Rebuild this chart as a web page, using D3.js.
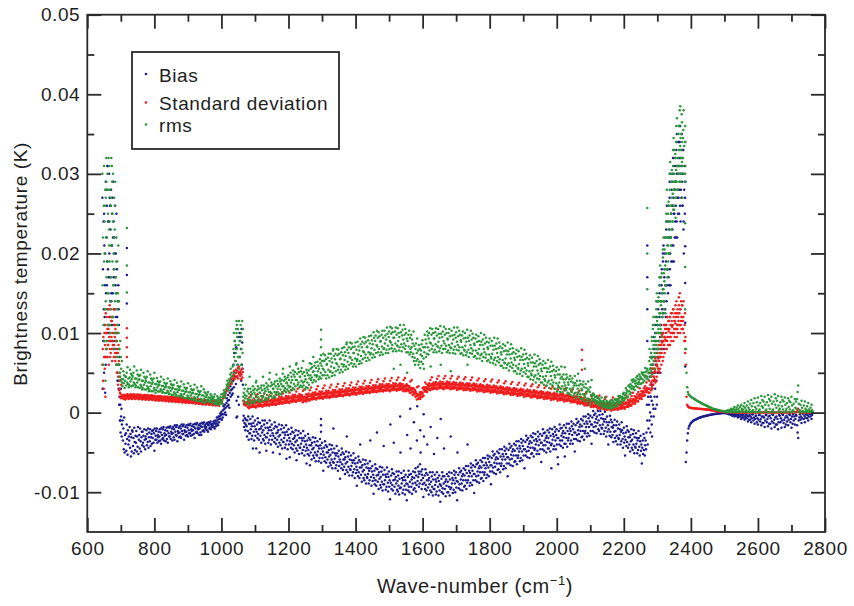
<!DOCTYPE html>
<html>
<head>
<meta charset="utf-8">
<script src="https://cdn.jsdelivr.net/npm/d3@7"></script>
<style>
  body { margin: 0; background: #fff; }
  svg text { font-family: "Liberation Sans", Arial, Helvetica, sans-serif; fill: #1e1e1e; }
</style>
</head>
<body>
<svg id="chart" width="854" height="606"></svg>
<script>
// Spectral statistics of brightness temperature differences.
// Each row: [start of a 10 cm-1 bin, then the channel values in that bin (mK)].
// Values inside a row belong to channels spread evenly across the bin.
const binWidth = 10;

const biasRows = [
[645,27,3,18,9,24,13,5,21,11,16,2.5,7],[655,29,15,22,10,26,19,7,31,13,24,17,11],[665,30,20,12,26,17,23,9,28,15,21,11,25],
[675,27,15,22,8,24,18,11,20,13,26,9,16],[685,20,10,15,6,18,12,4,14,8,16,3,11],[695,6,2,4,-1,1,-2.5,3,-0.5,0.5,-3,-1.5,2],
[705,-1,-3.5,-2,-4.6,-0.6,-5,-2.8,-3.9],[715,-2.6,-4.8,-1.5,-3.3,-5.3,-2.2,-4,-3],[725,-3.5,-1.8,-4.4,-2.7,-5.5,-3.1,-4.9,-2.2],
[735,-2.4,-4.2,-3.2,-5.1,-1.9,-3.7,-4.7,-2.9],[745,-3.8,-2.3,-4.9,-3,-4.3,-1.8,-5.2,-3.4],[755,-2.8,-4.5,-2,-3.6,-4.9,-3.1,-2.4,-4.1],
[765,-2.4,-3.8,-2.9,-4.3,-2.1,-3.4,-4.6,-3],[775,-3.3,-2.2,-4.1,-2.7,-3.7,-2,-4.4,-3.1],[785,-2.5,-3.6,-2.1,-4.2,-3.1,-2.7,-3.9,-2.3],
[795,-3.2,-2.2,-3.8,-2.6,-4.8,-2,-3.4,-2.9],[805,-2.3,-3.4,-2,-3.8,-2.8,-3.1,-2.4,-3.6],[815,-3,-2.1,-3.5,-2.5,-3.9,-1.9,-2.8,-3.3],
[825,-2.1,-3.2,-1.8,-3.5,-2.6,-2.9,-2.2,-3.6],[835,-2.8,-1.9,-3.3,-2.3,-3.8,-1.8,-2.6,-3],[845,-1.9,-3,-1.7,-3.3,-2.4,-2.7,-2,-3.5],
[855,-2.6,-1.8,-3.1,-2.1,-3.4,-1.6,-2.4,-2.8],[865,-1.8,-2.9,-1.6,-3.6,-2.3,-2.6,-1.9,-3.1],[875,-2.5,-1.7,-3,-2,-3.2,-1.5,-2.3,-2.7],
[885,-1.7,-2.7,-1.5,-3.4,-2.2,-2.4,-1.8,-2.9],[895,-2.4,-1.6,-2.8,-1.9,-3,-1.5,-2.2,-2.6],[905,-1.6,-2.6,-1.4,-2.9,-2.1,-2.3,-1.7,-2.8],
[915,-2.2,-1.5,-2.7,-1.8,-3.2,-1.4,-2,-2.5],[925,-1.5,-2.4,-1.3,-2.6,-1.9,-2.1,-1.6,-2.8],[935,-2,-1.4,-2.5,-1.7,-2.8,-1.3,-1.8,-2.3],
[945,-1.4,-2.2,-1.2,-2.4,-1.7,-1.9,-1.5,-2.1],[955,-1.8,-1.3,-2.2,-1.5,-2.4,-1.2,-1.6,-2],[965,-1.3,-1.9,-1.1,-2.1,-1.5,-1.7,-1.4,-1.8],
[975,-1.5,-1.1,-1.8,-1.3,-2,-1,-1.4,-1.7],[985,-1.1,-0.6,-1.4,-0.9,-1.6,-0.5,-1.2,-0.8],[995,-0.5,-0.1,-0.8,-0.3,0.1,-0.9,-0.2,-0.6],
[1005,0.3,0.8,-0.2,0.5,1,0,0.6,-0.3],[1015,1.2,1.8,0.8,1.5,2.2,1,1.6,0.6],[1025,2.5,3.3,2,2.8,3.7,2.2,3,2.4],
[1035,4,6,3.2,7.5,5,9,4.5,6.5,3.6,8.2],[1045,8,4.5,-0.5,6,9.5,2,7,1,5,10],[1055,7,9.5,5,8,4,10.5,6,8.8,5.5,3.5],
[1065,-1,-0.4,-1.8,-1.3,-0.7,-2.2,-1.5,-0.9],
[1075,-1.7,-3,-1,-2.3,-0.5,-3.4,-1.4,-2.6],[1085,-2.6,-0.8,-2.1,-1.4,-3.3,-1.7,-2.9,-0.5,-4.5],[1095,-1.3,-2.4,-3.5,-1.7,-1,-2.9,-2.1,-4.5],
[1105,-2.4,-1.5,-3.2,-0.7,-2.7,-1.2,-3.4,-2.1,-5],[1115,-1.3,-2.9,-2,-3.8,-1.7,-2.5,-1,-3.3],[1125,-2.2,-3.5,-1.5,-2.8,-1,-3.9,-1.9,-3.1,-4.8],
[1135,-3.1,-1.3,-2.6,-1.9,-3.8,-2.2,-3.4,-1],[1145,-1.8,-2.9,-4,-2.2,-1.5,-3.4,-2.6,-5],[1155,-2.9,-2,-3.7,-1.2,-3.2,-1.7,-3.9,-2.6],
[1165,-1.8,-3.4,-2.5,-4.3,-2.2,-3,-1.5,-3.8,-5.2],[1175,-2.8,-4.1,-2.1,-3.4,-1.6,-4.5,-2.5,-3.7],[1185,-3.7,-1.9,-3.2,-2.5,-4.4,-2.8,-4,-1.6,-5.8],
[1195,-2.4,-3.5,-4.6,-2.8,-2.1,-4,-3.2,-5.6],[1205,-3.6,-2.7,-4.4,-1.9,-3.9,-2.4,-4.6,-3.3],[1215,-2.5,-4.1,-3.2,-5,-2.9,-3.7,-2.2,-4.5,-6],
[1225,-3.5,-4.8,-2.8,-4.1,-2.3,-5.2,-3.2,-4.4],[1235,-4.4,-2.6,-3.9,-3.2,-5.1,-3.5,-4.7,-2.3],[1245,-3.2,-4.3,-5.4,-3.6,-2.9,-4.8,-4,-6.4],
[1255,-4.4,-3.5,-5.2,-2.7,-4.7,-3.2,-5.4,-4.1,-6.6],[1265,-3.4,-5,-4.1,-5.9,-3.8,-4.6,-3.1,-5.4],[1275,-4.4,-5.7,-3.7,-5,-3.2,-6.1,-4.1,-5.3],
[1285,-5.4,-3.6,-4.9,-4.2,-6.1,-4.5,-5.7,-3.3],[1295,-4.1,-5.2,-6.3,-4.5,-3.8,-5.7,-4.9,-7.3],[1305,-5.3,-4.4,-6.1,-3.6,-5.6,-4.1,-6.3,-5],
[1315,-4.3,-5.9,-5,-6.8,-4.7,-5.5,-4,-6.3],[1325,-5.3,-6.6,-4.6,-5.9,-4.1,-7,-5,-6.2,-2],[1335,-6.3,-4.5,-5.8,-5.1,-7,-5.4,-6.6,-4.2],
[1345,-5.1,-6.2,-7.3,-5.5,-4.8,-6.7,-5.9,-8.3],[1355,-6.2,-5.3,-7,-4.5,-6.5,-5,-7.2,-5.9],[1365,-5.2,-6.8,-5.9,-7.7,-5.6,-6.4,-4.9,-7.2,-3],
[1375,-6.2,-7.5,-5.5,-6.8,-5,-7.9,-5.9,-7.1],[1385,-7.2,-5.4,-6.7,-6,-7.9,-6.3,-7.5,-5.1],[1395,-6,-7.1,-8.2,-6.4,-5.7,-7.6,-6.8,-9.2],
[1405,-7.2,-6.3,-8,-5.5,-7.5,-6,-8.2,-6.9,-4],[1415,-6.2,-7.8,-6.9,-8.7,-6.6,-7.4,-5.9,-8.2],[1425,-7.2,-8.5,-6.5,-7.8,-6,-8.9,-6.9,-8.1],
[1435,-8.2,-6.4,-7.7,-7,-8.9,-7.3,-8.5,-6.1,-3.5],[1445,-7,-8.1,-9.2,-7.4,-6.7,-8.6,-7.8,-10.2],[1455,-8.2,-7.3,-9,-6.5,-8.5,-7,-9.2,-7.9,-2.5],
[1465,-7.1,-8.7,-7.8,-9.6,-7.5,-8.3,-6.8,-9.1],[1475,-8.1,-9.4,-7.4,-8.7,-6.9,-9.8,-7.8,-9,-4.2],[1485,-9,-7.2,-8.5,-7.8,-9.7,-8.1,-9.3,-6.9],
[1495,-7.7,-8.8,-9.9,-8.1,-7.4,-9.3,-8.5,-10.9,-1.5],[1505,-8.8,-7.9,-9.6,-7.1,-9.1,-7.6,-9.8,-8.5,-3.8],[1515,-7.7,-9.3,-8.4,-10.2,-8.1,-8.9,-7.4,-9.7],
[1525,-8.6,-9.9,-7.9,-9.2,-7.4,-10.3,-8.3,-9.5,-0.5,-5],[1535,-9.4,-7.6,-8.9,-8.2,-10.1,-8.5,-9.7,-7.3],[1545,-8.1,-9.2,-10.3,-8.5,-7.8,-9.7,-8.9,-11,-2.8],
[1555,-9,-8.1,-9.8,-7.3,-9.3,-7.8,-10,-8.7,0.5,-4.5],[1565,-7.7,-9.3,-8.4,-10.2,-8.1,-8.9,-7.4,-9.7,-1.2],[1575,-8.2,-9.5,-7.5,-8.8,-7,-9.9,-7.9,-9.1,-3.5,0.8],
[1585,-8.6,-6.8,-8.1,-7.4,-9.3,-7.7,-8.9,-6.5,-2.2,-5],[1595,-7.4,-8.5,-9.6,-7.8,-7.1,-9,-8.2,-10.6,-0.2,-3],[1605,-8.8,-7.9,-9.6,-7.1,-9.1,-7.6,-9.8,-8.5,-4],
[1615,-7.8,-9.4,-8.5,-10.3,-8.2,-9,-7.5,-9.8,-1.8],[1625,-8.7,-10,-8,-9.3,-7.5,-10.4,-8.4,-9.6,-5.2],[1635,-9.6,-7.8,-9.1,-8.4,-10.3,-8.7,-9.9,-7.5,-3.2],
[1645,-8.2,-9.3,-10.4,-8.6,-7.9,-9.8,-9,-11.2,-0.8],[1655,-9.2,-8.3,-10,-7.5,-9.5,-8,-10.2,-8.9,-4.5],[1665,-8,-9.6,-8.7,-10.5,-8.4,-9.2,-7.7,-10],
[1675,-8.7,-10,-8,-9.3,-7.5,-10.4,-8.4,-9.6,-3],[1685,-9.4,-7.6,-8.9,-8.2,-10.1,-8.5,-9.7,-7.3],[1695,-7.8,-8.9,-10,-8.2,-7.5,-9.4,-8.6,-11,-5],
[1705,-8.7,-7.8,-9.5,-7,-9,-7.5,-9.7,-8.4],[1715,-7.3,-8.9,-8,-9.8,-7.7,-8.5,-7,-9.3],[1725,-7.9,-9.2,-7.2,-8.5,-6.7,-9.6,-7.6,-8.8,-4],
[1735,-8.5,-6.7,-8,-7.3,-9.2,-7.6,-8.8,-6.4],[1745,-6.9,-8,-9.1,-7.3,-6.6,-8.5,-7.7,-10.1],[1755,-7.7,-6.8,-8.5,-6,-8,-6.5,-8.7,-7.4],
[1765,-6.3,-7.9,-7,-8.8,-6.7,-7.5,-6,-8.3],[1775,-6.9,-8.2,-6.2,-7.5,-5.7,-8.6,-6.6,-7.8],[1785,-7.5,-5.7,-7,-6.3,-8.2,-6.6,-7.8,-5.4],
[1795,-5.8,-6.9,-8,-6.2,-5.5,-7.4,-6.6,-9],[1805,-6.6,-5.7,-7.4,-4.9,-6.9,-5.4,-7.6,-6.3],[1815,-5.2,-6.8,-5.9,-7.7,-5.6,-6.4,-4.9,-7.2],
[1825,-5.8,-7.1,-5.1,-6.4,-4.6,-7.5,-5.5,-6.7],[1835,-6.4,-4.6,-5.9,-5.2,-7.1,-5.5,-6.7,-4.3],[1845,-4.8,-5.9,-7,-5.2,-4.5,-6.4,-5.6,-8],
[1855,-5.6,-4.7,-6.4,-3.9,-5.9,-4.4,-6.6,-5.3],[1865,-4.2,-5.8,-4.9,-6.7,-4.6,-5.4,-3.9,-6.2],[1875,-4.8,-6.1,-4.1,-5.4,-3.6,-6.5,-4.5,-5.7],
[1885,-5.4,-3.6,-4.9,-4.2,-6.1,-4.5,-5.7,-3.3],[1895,-3.8,-4.9,-6,-4.2,-3.5,-5.4,-4.6,-7],[1905,-4.6,-3.7,-5.4,-2.9,-4.9,-3.4,-5.6,-4.3],
[1915,-3.2,-4.8,-3.9,-5.7,-3.6,-4.4,-2.9,-5.2],[1925,-3.8,-5.1,-3.1,-4.4,-2.6,-5.5,-3.5,-4.7],[1935,-4.5,-2.7,-4,-3.3,-5.2,-3.6,-4.8,-2.4],
[1945,-3,-4.1,-5.2,-3.4,-2.7,-4.6,-3.8,-6.2],[1955,-3.8,-2.9,-4.6,-2.1,-4.1,-2.6,-4.8,-3.5],[1965,-2.5,-4.1,-3.2,-5,-2.9,-3.7,-2.2,-4.5],
[1975,-3.2,-4.5,-2.5,-3.8,-2,-4.9,-2.9,-4.1,-7],[1985,-3.9,-2.1,-3.4,-2.7,-4.6,-3,-4.2,-1.8],[1995,-2.4,-3.5,-4.6,-2.8,-2.1,-4,-3.2,-5.6,-6.5],
[2005,-3.2,-2.3,-4,-1.5,-3.5,-2,-4.2,-2.9],[2015,-1.9,-3.5,-2.6,-4.4,-2.3,-3.1,-1.6,-3.9,-5.5],[2025,-2.6,-3.9,-1.9,-3.2,-1.4,-4.3,-2.3,-3.5],
[2035,-3.2,-1.4,-2.7,-2,-3.9,-2.3,-3.5,-1.1],[2045,-1.7,-2.8,-3.9,-2.1,-1.4,-3.3,-2.5,-4.9],[2055,-2.5,-1.6,-3.3,-0.8,-2.8,-1.3,-3.5,-2.2],
[2065,-1.1,-2.7,-1.8,-3.6,-1.5,-2.3,-0.8,-3.1],[2075,-1.7,-3,-1,-2.3,-0.5,-3.4,-1.4,-2.6],[2085,-2.3,-0.5,-1.8,-1.1,-3,-1.4,-2.6,-0.2],
[2095,-0.7,-1.8,-2.9,-1.1,-0.4,-2.3,-1.5,-3.9],[2105,-1.5,-0.6,-2.3,0.2,-1.8,-0.3,-2.5,-1.2],[2115,-0.1,-1.7,-0.8,-2.6,-0.5,-1.3,0.2,-2.1],
[2125,-1,-2.3,-0.3,-1.6,0.2,-2.7,-0.7,-1.9],[2135,-2,-0.2,-1.5,-0.8,-2.7,-1.1,-2.3,0.1],[2145,-0.8,-1.9,-3,-1.2,-0.5,-2.4,-1.6,-4],
[2155,-2.1,-1.2,-2.9,-0.4,-2.4,-0.9,-3.1,-1.8],[2165,-1.2,-2.8,-1.9,-3.7,-1.6,-2.4,-0.9,-3.2],[2175,-2.3,-3.6,-1.6,-2.9,-1.1,-4,-2,-3.2],
[2185,-3.3,-1.5,-2.8,-2.1,-4,-2.4,-3.6,-1.2],[2195,-2.2,-3.3,-4.4,-2.6,-1.9,-3.8,-3,-5.4],[2205,-3.4,-2.5,-4.2,-1.7,-3.7,-2.2,-4.4,-3.1],
[2215,-2.4,-4,-3.1,-4.9,-2.8,-3.6,-2.1,-4.4],[2225,-3.4,-4.7,-2.7,-4,-2.2,-5.1,-3.1,-4.3],[2235,-4.4,-2.6,-3.9,-3.2,-5.1,-3.5,-4.7,-2.3],
[2245,-3.2,-4.3,-5.4,-3.6,-2.9,-4.8,-4,-6.4],[2255,-4.4,-3.5,-5.2,-2.7,-4.7,-3.2,-5.4,-4.1],[2265,-3.5,-4.6,-2.5,1,-1,-4,2,-2],
[2275,1,3,-1,4.5,0,-2.5,2,5.5,-0.5,3.5,1.5,-3],[2285,3,6,1,8,9.5,-0.5,4,7,2,5,10,0.5],[2295,6,9,12,4,14,2,8,11,5,13,7,10],
[2305,9,12,15,7,17,5,11,14,8,16,10,13],[2315,12,15,19,10,21,8,14,17,11,20,13,16],[2325,16,19,23,14,26,12,18,21,15,24,17,22],
[2335,20,23,27,18,30,16,22,25,19,28,21,26],[2345,23,26,30,21,33,19,25,28,22,31,24,29],[2355,26,29,33,24,35,22,28,31,25,34,27,32],
[2365,28,31,34,26,36,24,30,33,27,35,29,32],[2375,26,30,33,23,20,28,31,25,34,29],
[2385,-6.2,-5,-3.5,-2.6,-2],[2395,-1.7,-1.5,-1.3,-1.2],[2405,-1.1,-1,-0.95,-0.9],[2415,-0.85,-0.8,-0.75,-0.7],[2425,-0.65,-0.6,-0.58,-0.55],
[2435,-0.5,-0.48,-0.45,-0.42],[2445,-0.4,-0.38,-0.35,-0.33],[2455,-0.3,-0.28,-0.26,-0.24],[2465,-0.22,-0.2,-0.18,-0.16],[2475,-0.15,-0.13,-0.12,-0.1],
[2485,-0.1,-0.08,-0.07,-0.06],[2495,-0.05,-0.05,-0.04,-0.04],
[2505,-0.05,-0.1,-0.03,-0.15,-0.08,-0.2],[2515,-0.1,-0.2,-0.05,-0.3,-0.15,-0.4],[2525,-0.1,-0.3,-0.05,-0.5,-0.2,-0.4],
[2535,-0.2,-0.4,-0.1,-0.6,-0.3,-0.5],[2545,-0.1,-0.5,-0.2,-0.8,-0.35,-0.6],[2555,-0.3,-0.6,-0.1,-0.9,-0.45,-0.7],
[2565,-0.2,-0.7,-0.4,-1.1,-0.5,-0.9],[2575,-0.3,-0.9,-0.5,-1.2,-0.7,-0.2],[2585,-0.2,-1,-0.6,-1.4,-0.8,-0.4],
[2595,-0.4,-1.2,-0.7,-1.5,-0.9,-0.3],[2605,-0.3,-1.1,-0.8,-1.6,-0.5,-1.3],[2615,-0.5,-1.3,-0.6,-1.8,-1,-0.3],
[2625,-0.3,-1.2,-0.8,-1.7,-0.5,-1.4],[2635,-0.4,-1.4,-0.7,-2,-1.1,-0.2],[2645,-0.3,-1.3,-0.9,-1.8,-0.6,-1.5],
[2655,-0.5,-1.5,-0.8,-2.1,-1.2,-0.3],[2665,-0.4,-1.2,-0.7,-1.9,-1,-0.2],[2675,-0.3,-1.3,-0.9,-1.8,-0.6,-1.5],
[2685,-0.4,-1.1,-0.6,-1.6,-0.9,-0.2],[2695,-0.3,-1.2,-0.8,-1.9,-0.5,-1.4],[2705,-0.2,-1,-0.5,-1.5,-0.8,-0.3],
[2715,-0.4,-1.6,-2.5,-3.2,-1,-0.6],[2725,-0.2,-0.9,-0.5,-1.3,-0.7,-0.1],[2735,-0.1,-0.8,-0.4,-1.2,-0.6,-0.2],
[2745,-0.2,-0.7,-0.3,-1,-0.5,-0.1],[2755,-0.1,-0.5,-0.2,-0.8,-0.3,-0.05]
];
// Extra channels in the two strongly absorbing bands, binned half a bin later
const biasBandRows = [
[650,25,12,20,6,28,16],[660,31,18,24,10,27,14],[670,26,14,21,9,29,17],[680,22,8,17,12,25,5],[690,10,4,13,1,7,-1],
[2280,2,5,-1.5,7,3.5,0.5],[2290,5,8,3,11,6.5,1],[2300,8,11,14,5,16,9.5],[2310,11,14,18,9,20,12.5],[2320,14,18,22,12,24,16],
[2330,18,22,26,16,29,20],[2340,22,25,29,19,32,27],[2350,25,28,32,22,34,30],[2360,27,30,34,25,36,32],[2370,28,31,35,26,33,24]
];

const stdRows = [
[645,6,8,4,9.5,3,7,10,5.5,8.5,2],[655,10,8,12,9,7,11,13,8.5,10.5,6],[665,9,11,8,13,10,7.5,12,9.5,11.5,6.5],
[675,10,8.5,12,9,7,11,13,9.5,7.5,10.5],[685,7,9,6,8,5,10,7.5,4.5,8.5,6.5],[695,4,3,2.5,2,1.8,3.5,2.2,1.9],
[705,1.9,2.1,1.7,2,1.75,2.15],[715,2.1,1.8,2.25,1.95,2.15,1.75],[725,2,2.2,1.8,2.1,1.85,2.25],[735,2.1,1.8,2.25,1.95,2.15,1.75],
[745,2,2.2,1.8,2.1,1.85,2.25],[755,2.05,1.75,2.2,1.9,2.1,1.7],[765,1.95,2.15,1.75,2.05,1.8,2.2],[775,2,1.7,2.15,1.85,2.05,1.65],
[785,1.9,2.1,1.7,2,1.75,2.15],[795,1.95,1.65,2.1,1.8,2,1.6],[805,1.8,2,1.6,1.9,1.65,2.05],[815,1.9,1.6,2.05,1.75,1.95,1.55],
[825,1.75,1.95,1.55,1.85,1.6,2],[835,1.8,1.5,1.95,1.65,1.85,1.45],[845,1.7,1.9,1.5,1.8,1.55,1.95],[855,1.75,1.45,1.9,1.6,1.8,1.4],
[865,1.6,1.8,1.4,1.7,1.45,1.85],[875,1.7,1.4,1.85,1.55,1.75,1.35],[885,1.55,1.75,1.35,1.65,1.4,1.8],[895,1.6,1.3,1.75,1.45,1.65,1.25],
[905,1.5,1.7,1.3,1.6,1.35,1.75],[915,1.55,1.25,1.7,1.4,1.6,1.2],[925,1.4,1.6,1.2,1.5,1.25,1.65],[935,1.45,1.15,1.6,1.3,1.5,1.1],
[945,1.3,1.5,1.1,1.4,1.15,1.55],[955,1.4,1.1,1.55,1.25,1.45,1.05],[965,1.25,1.45,1.05,1.35,1.1,1.5],[975,1.3,1,1.45,1.15,1.35,0.95],
[985,1.15,1.35,0.95,1.25,1,1.4],[995,1.2,1.4,1.6,1.3,1.5,1.1],[1005,1.8,2.1,2.4,1.9,2.2,2.5],[1015,2.7,3,3.3,2.8,3.1,3.4],
[1025,3.5,3.8,4.2,3.6,3.9,4.3],[1035,4.5,4.8,5.2,4.2,4.6,5,5.4,4.4],[1045,5,5.3,4.6,5.6,4.3,5.1,5.8,4.8],[1055,5,4.6,5.3,4.2,4.8,5.5,4.4,5.1],
[1065,1.5,1.1,1,1.3,0.9,1.2],
[1075,1,1.3,0.7,1.15,0.8,1.9],[1085,1.1,0.75,1.3,0.9,1.2,0.7],[1095,1.05,1.35,0.75,1.2,0.85,1.95],[1105,1.2,0.85,1.4,1,1.3,0.8],
[1115,1.15,1.45,0.85,1.3,0.95,2.05],[1125,1.3,0.95,1.5,1.1,1.4,0.9],[1135,1.25,1.55,0.95,1.4,1.05,2.15],[1145,1.4,1.05,1.6,1.2,1.5,1],
[1155,1.35,1.65,1.05,1.5,1.15,2.25],[1165,1.5,1.15,1.7,1.3,1.6,1.1],[1175,1.5,1.8,1.2,1.65,1.3,2.4],[1185,1.65,1.3,1.85,1.45,1.75,1.25],
[1195,1.6,1.9,1.3,1.75,1.4,2.5],[1205,1.8,1.45,2,1.6,1.9,1.4],[1215,1.75,2.05,1.45,1.9,1.55,2.65],[1225,1.9,1.55,2.1,1.7,2,1.5],
[1235,1.85,2.15,1.55,2,1.65,2.75],[1245,1.8,1.45,2,1.6,1.9,1.4],[1255,1.9,2.2,1.6,2.05,1.7,2.8],[1265,2.1,1.75,2.3,1.9,2.2,1.7],
[1275,2.05,2.35,1.75,2.2,1.85,2.95],[1285,2.2,1.85,2.4,2,2.3,1.8],[1295,2.15,2.45,1.85,2.3,1.95,3.05],[1305,2.3,1.95,2.5,2.1,2.4,1.9],
[1315,2.25,2.55,1.95,2.4,2.05,3.15],[1325,2.4,2.05,2.6,2.2,2.5,2],[1335,2.35,2.65,2.05,2.5,2.15,3.25],[1345,2.5,2.15,2.7,2.3,2.6,2.1],
[1355,2.45,2.75,2.15,2.6,2.25,3.35],[1365,2.6,2.25,2.8,2.4,2.7,2.2],[1375,2.55,2.85,2.25,2.7,2.35,3.45],[1385,2.7,2.35,2.9,2.5,2.8,2.3],
[1395,2.65,2.95,2.35,2.8,2.45,3.55],[1405,2.8,2.45,3,2.6,2.9,2.4],[1415,2.75,3.05,2.45,2.9,2.55,3.65],[1425,2.9,2.55,3.1,2.7,3,2.5],
[1435,2.85,3.15,2.55,3,2.65,3.75],[1445,3,2.65,3.2,2.8,3.1,2.6],[1455,2.95,3.25,2.65,3.1,2.75,3.85],[1465,3.1,2.75,3.3,2.9,3.2,2.7],
[1475,3.05,3.35,2.75,3.2,2.85,3.95],[1485,3.2,2.85,3.4,3,3.3,2.8],[1495,3.1,3.4,2.8,3.25,2.9,4],[1505,3.25,2.9,3.45,3.05,3.35,2.85],
[1515,3.2,3.5,2.9,3.35,3,4.1],[1525,3.3,2.95,3.5,3.1,3.4,2.9],[1535,3.2,3.5,2.9,3.35,3,4.1],[1545,3.2,2.85,3.4,3,3.3,2.8],
[1555,3,3.3,2.7,3.15,2.8,3.9],[1565,2.9,2.55,3.1,2.7,3,2.5],[1575,2.3,2.6,2,2.45,2.1,3.2],[1585,2.1,1.75,2.3,1.9,2.2,1.7],
[1595,2.3,2.6,2,2.45,2.1,3.2],[1605,3,2.65,3.2,2.8,3.1,2.6],[1615,3.2,3.5,2.9,3.35,3,4.1],[1625,3.4,3.05,3.6,3.2,3.5,3],
[1635,3.35,3.65,3.05,3.5,3.15,4.25],[1645,3.5,3.15,3.7,3.3,3.6,3.1],[1655,3.4,3.7,3.1,3.55,3.2,4.3],[1665,3.5,3.15,3.7,3.3,3.6,3.1],
[1675,3.4,3.7,3.1,3.55,3.2,4.3],[1685,3.45,3.1,3.65,3.25,3.55,3.05],[1695,3.35,3.65,3.05,3.5,3.15,4.25],[1705,3.4,3.05,3.6,3.2,3.5,3],
[1715,3.3,3.6,3,3.45,3.1,4.2],[1725,3.35,3,3.55,3.15,3.45,2.95],[1735,3.2,3.5,2.9,3.35,3,4.1],[1745,3.3,2.95,3.5,3.1,3.4,2.9],
[1755,3.15,3.45,2.85,3.3,2.95,4.05],[1765,3.2,2.85,3.4,3,3.3,2.8],[1775,3.05,3.35,2.75,3.2,2.85,3.95],[1785,3.1,2.75,3.3,2.9,3.2,2.7],
[1795,3,3.3,2.7,3.15,2.8,3.9],[1805,3.05,2.7,3.25,2.85,3.15,2.65],[1815,2.9,3.2,2.6,3.05,2.7,3.8],[1825,2.95,2.6,3.15,2.75,3.05,2.55],
[1835,2.8,3.1,2.5,2.95,2.6,3.7],[1845,2.85,2.5,3.05,2.65,2.95,2.45],[1855,2.7,3,2.4,2.85,2.5,3.6],[1865,2.75,2.4,2.95,2.55,2.85,2.35],
[1875,2.6,2.9,2.3,2.75,2.4,3.5],[1885,2.65,2.3,2.85,2.45,2.75,2.25],[1895,2.5,2.8,2.2,2.65,2.3,3.4],[1905,2.55,2.2,2.75,2.35,2.65,2.15],
[1915,2.4,2.7,2.1,2.55,2.2,3.3],[1925,2.45,2.1,2.65,2.25,2.55,2.05],[1935,2.3,2.6,2,2.45,2.1,3.2],[1945,2.35,2,2.55,2.15,2.45,1.95],
[1955,2.2,2.5,1.9,2.35,2,3.1],[1965,2.25,1.9,2.45,2.05,2.35,1.85],[1975,2.1,2.4,1.8,2.25,1.9,3],[1985,2.15,1.8,2.35,1.95,2.25,1.75],
[1995,2,2.3,1.7,2.15,1.8,2.9],[2005,2.05,1.7,2.25,1.85,2.15,1.65],[2015,1.9,2.2,1.6,2.05,1.7,2.8],[2025,1.95,1.6,2.15,1.75,2.05,1.55],
[2035,1.8,2.1,1.5,1.95,1.6,2.7],[2045,1.8,1.45,2,1.6,1.9,1.4],[2055,1.6,1.9,1.3,1.75,1.4,2.5],[2065,1.6,1.25,1.8,1.4,1.7,1.2],
[2075,1.4,1.7,1.1,1.55,1.2,2.3],[2085,1.4,1.05,1.6,1.2,1.5,1],[2095,1.2,1.5,0.9,1.35,1,2.1],[2105,1.2,0.85,1.4,1,1.3,0.8],
[2115,1,1.3,0.7,1.15,0.8,1.9],[2125,1,0.65,1.2,0.8,1.1,0.6],[2135,0.8,1.1,0.5,0.95,0.6,1.7],[2145,0.85,0.5,1.05,0.65,0.95,0.45],
[2155,0.7,1,0.4,0.85,0.5,1.6],[2165,0.8,0.45,1,0.6,0.9,0.4],[2175,0.75,1.05,0.45,0.9,0.55,1.65],[2185,0.9,0.55,1.1,0.7,1,0.5],
[2195,0.9,1.2,0.6,1.05,0.7,1.8],[2205,1.1,0.75,1.3,0.9,1.2,0.7],[2215,1.2,1.5,0.9,1.35,1,2.1],[2225,1.5,1.15,1.7,1.3,1.6,1.1],
[2235,1.7,2,1.4,1.85,1.5,2.6],[2245,2.1,1.75,2.3,1.9,2.2,1.7],[2255,2.4,2.7,2.1,2.55,2.2,3.3],[2265,2.9,2.55,3.1,2.7,3,2.5],
[2275,3,4,2.5,5,3.5,4.5,2.8,3.8,5.5,3.2],[2285,4,5,6,3.5,4.5,5.5,6.5,4.2,5.2,3.8],[2295,5,6.5,7.5,4.5,6,7,8,5.5,6.8,5.2],
[2305,6.5,8,9,5.5,7,8.5,9.5,6,7.5,8.8],[2315,8,9,10,7,11,8.5,9.5,7.5,10.5,9.2],[2325,9,10,11,8,12,9.5,10.5,8.5,11.5,10.2],
[2335,9.5,10.5,12,8.5,11,10,12.5,9,11.5,10.8],[2345,10,11,13,9,12,10.5,11.5,9.5,12.5,11.2],[2355,10.5,12,14,9.5,11,13,10,12.5,11.5,13.5],
[2365,11,12.5,15,10,13,11.5,14,10.5,12,13.5],[2375,10.5,11.5,12,10,9,11,12.5,9.5],
[2385,6,2,1,0.8,0.7],[2395,0.65,0.62,0.6,0.58],[2405,0.56,0.55,0.54,0.53],[2415,0.52,0.51,0.5,0.49],[2425,0.48,0.47,0.46,0.45],
[2435,0.44,0.43,0.42,0.41],[2445,0.4,0.39,0.38,0.37],[2455,0.35,0.33,0.31,0.3],[2465,0.28,0.26,0.24,0.22],[2475,0.2,0.18,0.17,0.16],
[2485,0.15,0.14,0.13,0.12],[2495,0.11,0.1,0.1,0.09],[2505,0.08,0.06,0.05],[2515,0.05,0.04,0.04],[2525,0.04,0.03,0.03],[2535,0.03,0.03,0.02],
[2545,0.03,0.02,0.03],[2555,0.03,0.02,0.03],[2565,0.03,0.02,0.03],[2575,0.03,0.02,0.03],[2585,0.03,0.02,0.03],[2595,0.03,0.02,0.03],
[2605,0.03,0.02,0.03],[2615,0.03,0.02,0.03],[2625,0.03,0.02,0.03],[2635,0.03,0.02,0.03],[2645,0.03,0.02,0.03],[2655,0.03,0.02,0.03],
[2665,0.03,0.02,0.03],[2675,0.03,0.02,0.03],[2685,0.03,0.02,0.03],[2695,0.03,0.02,0.03],[2705,0.03,0.02,0.03],[2715,0.05,0.2,0.5,0.1],
[2725,0.03,0.02,0.03],[2735,0.03,0.02,0.03],[2745,0.03,0.02,0.03],[2755,0.03,0.02,0.03]
];
// Extra standard-deviation channels, binned half a bin later
const stdBandRows = [
[650,9,11,7,12.5,8,10],[660,10.5,8.5,12,9.5,13.5,7],[670,9,11.5,8,12,10,13],[680,8.5,10,6.5,11,7.5,9],[690,5,3.5,6,2.8,4.5,2.4],
[710,2.25,1.65,2],[720,2.3,1.7,2.05],[730,2.3,1.7,2.05],[740,2.3,1.7,2.05],[750,2.28,1.68,2.03],[760,2.25,1.65,2],[770,2.22,1.62,1.97],
[780,2.2,1.6,1.95],[790,2.18,1.58,1.93],[800,2.12,1.52,1.87],[810,2.1,1.5,1.85],[820,2.08,1.48,1.83],[830,2.02,1.42,1.77],[840,2,1.4,1.75],
[850,1.98,1.38,1.73],[860,1.92,1.32,1.67],[870,1.9,1.3,1.65],[880,1.88,1.28,1.63],[890,1.82,1.22,1.57],[900,1.8,1.2,1.55],[910,1.78,1.18,1.53],
[920,1.72,1.12,1.47],[930,1.68,1.08,1.43],[940,1.62,1.02,1.37],[950,1.6,1,1.35],[960,1.58,0.98,1.33],[970,1.52,0.92,1.27],[980,1.48,0.88,1.23],
[990,1.45,0.85,1.2],
[1080,1.45,0.55,1.2,2.2],[1090,0.7,1.55,0.95,1.35],[1100,1.55,0.65,1.3,2.3],[1110,0.8,1.65,1.05,1.45],[1120,1.65,0.75,1.4,2.4],
[1130,0.9,1.75,1.15,1.55],[1140,1.75,0.85,1.5,2.5],[1150,1,1.85,1.25,1.65],[1160,1.85,0.95,1.6,2.6],[1170,1.1,1.95,1.35,1.75],
[1180,2,1.1,1.75,2.75],[1190,1.25,2.1,1.5,1.9],[1200,2.1,1.2,1.85,2.85],[1210,1.35,2.2,1.6,2],[1220,2.25,1.35,2,3],
[1230,1.5,2.35,1.75,2.15],[1240,2.2,1.3,1.95,2.95],[1250,1.45,2.3,1.7,2.1],[1260,2.4,1.5,2.15,3.15],[1270,1.65,2.5,1.9,2.3],
[1280,2.55,1.65,2.3,3.3],[1290,1.8,2.65,2.05,2.45],[1300,2.65,1.75,2.4,3.4],[1310,1.9,2.75,2.15,2.55],[1320,2.75,1.85,2.5,3.5],
[1330,2,2.85,2.25,2.65],[1340,2.85,1.95,2.6,3.6],[1350,2.1,2.95,2.35,2.75],[1360,2.95,2.05,2.7,3.7],[1370,2.2,3.05,2.45,2.85],
[1380,3.05,2.15,2.8,3.8],[1390,2.3,3.15,2.55,2.95],[1400,3.15,2.25,2.9,3.9],[1410,2.4,3.25,2.65,3.05],[1420,3.25,2.35,3,4],
[1430,2.5,3.35,2.75,3.15],[1440,3.35,2.45,3.1,4.1],[1450,2.6,3.45,2.85,3.25],[1460,3.45,2.55,3.2,4.2],[1470,2.7,3.55,2.95,3.35],
[1480,3.55,2.65,3.3,4.3],[1490,2.75,3.6,3,3.4],[1500,3.6,2.7,3.35,4.35],[1510,2.85,3.7,3.1,3.5],[1520,3.65,2.75,3.4,4.4],
[1530,2.85,3.7,3.1,3.5],[1540,3.6,2.7,3.35,4.35],[1550,2.7,3.55,2.95,3.35],[1560,3.35,2.45,3.1,4.1],[1570,2.2,3.05,2.45,2.85],
[1580,2.55,1.65,2.3,3.3],[1590,1.75,2.6,2,2.4],[1600,3.05,2.15,2.8,3.8],[1610,2.7,3.55,2.95,3.35],[1620,3.7,2.8,3.45,4.45],
[1630,2.95,3.8,3.2,3.6],[1640,3.85,2.95,3.6,4.6],[1650,3.05,3.9,3.3,3.7],[1660,3.85,2.95,3.6,4.6],[1670,3.05,3.9,3.3,3.7],
[1680,3.85,2.95,3.6,4.6],[1690,3,3.85,3.25,3.65],[1700,3.75,2.85,3.5,4.5],[1710,2.95,3.8,3.2,3.6],[1720,3.7,2.8,3.45,4.45],
[1730,2.85,3.7,3.1,3.5],[1740,3.65,2.75,3.4,4.4],[1750,2.8,3.65,3.05,3.45],[1760,3.55,2.65,3.3,4.3],[1770,2.7,3.55,2.95,3.35],
[1780,3.45,2.55,3.2,4.2],[1790,2.65,3.5,2.9,3.3],[1800,3.4,2.5,3.15,4.15],[1810,2.55,3.4,2.8,3.2],[1820,3.3,2.4,3.05,4.05],
[1830,2.45,3.3,2.7,3.1],[1840,3.2,2.3,2.95,3.95],[1850,2.35,3.2,2.6,3],[1860,3.1,2.2,2.85,3.85],[1870,2.25,3.1,2.5,2.9],
[1880,3,2.1,2.75,3.75],[1890,2.15,3,2.4,2.8],[1900,2.9,2,2.65,3.65],[1910,2.05,2.9,2.3,2.7],[1920,2.8,1.9,2.55,3.55],
[1930,1.95,2.8,2.2,2.6],[1940,2.7,1.8,2.45,3.45],[1950,1.85,2.7,2.1,2.5],[1960,2.6,1.7,2.35,3.35],[1970,1.75,2.6,2,2.4],
[1980,2.5,1.6,2.25,3.25],[1990,1.65,2.5,1.9,2.3],[2000,2.4,1.5,2.15,3.15],[2010,1.55,2.4,1.8,2.2],[2020,2.3,1.4,2.05,3.05],
[2030,1.45,2.3,1.7,2.1],[2040,2.2,1.3,1.95,2.95],[2050,1.3,2.15,1.55,1.95],[2060,2,1.1,1.75,2.75],[2070,1.1,1.95,1.35,1.75],
[2080,1.8,0.9,1.55,2.55],[2090,0.9,1.75,1.15,1.55],[2100,1.6,0.7,1.35,2.35],[2110,0.7,1.55,0.95,1.35],[2120,1.4,0.5,1.15,2.15],
[2130,0.5,1.35,0.75,1.15],[2140,1.25,0.35,1,2],[2150,0.35,1.2,0.6,1],[2160,1.15,0.25,0.9,1.9],[2170,0.35,1.2,0.6,1],
[2180,1.25,0.35,1,2],[2190,0.5,1.35,0.75,1.15],[2200,1.4,0.5,1.15,2.15],[2210,0.75,1.6,1,1.4],[2220,1.75,0.85,1.5,2.5],
[2230,1.2,2.05,1.45,1.85],[2240,2.3,1.4,2.05,3.05],[2250,1.85,2.7,2.1,2.5],[2260,3.05,2.15,2.8,3.8],
[2280,3.5,4.5,3,5.5,4],[2290,4.5,5.5,6.8,4,6],[2300,5.8,7,8.5,5,7.5],[2310,7,8.5,9.8,6.5,9],[2320,8.5,9.5,11,8,10.5],
[2330,9,10.5,11.5,8.5,12],[2340,9.5,11,12.5,10,13],[2350,10,11.5,13.5,10.5,12.5],[2360,10.5,12,14.5,11,13],[2370,11,12,13.5,10.5,14]
];

const rmsRows = [
[645,30,16,22,6,11,26,19,9,24,13,28,4],[655,27,13,32,17,22,9,30,19,25,11,15,28],[665,23,31,19,10,28,14,26,17,32,21,12,29],
[675,25,12,30,16,20,8,27,18,23,14,29,10],[685,17,9,22,6,13,19,11,15,7,21,10,14],[695,6,8,5,4.5,4,7,5.5,4.2,6.5,3.8],
[705,3.3,4.2,5.2,3.7,4.7,3.1,4,4.5],[715,4.5,3.4,5,3.8,5.7,3.6,4.3,3.2],[725,3.5,4.4,5.4,3.9,4.9,3.3,4.2,4.7],
[735,4.5,3.4,5,3.8,5.8,3.6,4.3,3.2],[745,3.4,4.3,5.3,3.8,4.8,3.2,4.1,4.6],[755,4.2,3.1,4.7,3.5,5.4,3.3,4,2.9],
[765,3.1,4,5,3.5,4.5,2.9,3.8,4.3],[775,4,2.9,4.5,3.3,5.2,3.1,3.8,2.7],[785,2.9,3.8,4.8,3.3,4.3,2.7,3.6,4.1],
[795,3.8,2.7,4.3,3.1,5,2.9,3.6,2.5],[805,2.8,3.55,4.35,3.15,3.95,2.65,3.4,3.8],[815,3.5,2.65,3.9,2.95,4.5,2.8,3.35,2.5],
[825,2.6,3.35,4.15,2.95,3.75,2.45,3.2,3.6],[835,3.3,2.45,3.7,2.75,4.3,2.6,3.15,2.3],[845,2.4,3.15,3.95,2.75,3.55,2.25,3,3.4],
[855,3.1,2.25,3.5,2.55,4.1,2.4,2.95,2.1],[865,2.2,2.95,3.75,2.55,3.35,2.05,2.8,3.2],[875,2.9,2.05,3.3,2.35,3.9,2.2,2.75,1.9],
[885,2,2.75,3.55,2.35,3.15,1.85,2.6,3],[895,2.7,1.85,3.1,2.15,3.7,2,2.55,1.7],[905,1.8,2.55,3.35,2.15,2.95,1.65,2.4,2.8],
[915,2.5,1.65,2.9,1.95,3.5,1.8,2.35,1.5],[925,1.6,2.35,3.15,1.95,2.75,1.45,2.2,2.6],[935,2.3,1.45,2.7,1.75,3.3,1.6,2.15,1.3],
[945,1.4,2.15,2.95,1.75,2.55,1.25,2,2.4],[955,2,1.45,2.25,1.65,2.6,1.55,1.9,1.35],[965,1.4,1.85,2.35,1.6,2.1,1.3,1.75,2],
[975,1.7,1.15,1.95,1.35,2.3,1.25,1.6,1.05],[985,1.1,1.55,2.05,1.3,1.8,1,1.45,1.7],[995,1.7,1.15,1.95,1.35,2.3,1.25,1.6,1.05],
[1005,2,2.4,2.8,2.2,2.6,1.9,2.5,3],[1015,3,3.5,4,3.2,3.7,2.8,3.4,4.2],[1025,4,4.8,5.5,4.4,5,3.8,4.6,5.8],
[1035,6,8,10,7,5,9,6.5,8.5,7.5,10.5],[1045,8,11,9.5,6,10.5,7,8.5,11.5,5.5,9],[1055,7,9,11,10,6,8,9.5,11.5,7.5,10.5],
[1065,2,2.5,1.5,3,2.2,1.8,3.5,1.2],
[1075,2.1,1.2,2.7,1.7,3,1,2.4,1.5,4.5],[1085,1.6,3,2,2.6,1.2,2.3,1.4,3.3],[1095,2.8,1.8,1.2,2.5,3,1.5,2.2,3.8,4],
[1105,2.1,2.8,1.6,3.3,1.9,3,1.35,2.5],[1115,2.5,1.6,3.1,2.1,3.4,1.4,2.8,1.9,4.5],[1125,2,3.4,2.4,3,1.6,2.7,1.8,3.7],
[1135,3.2,2.2,1.6,2.9,3.4,1.9,2.6,4.2,5],[1145,2.6,3.3,2.1,3.8,2.4,3.5,1.85,3],[1155,3,2.1,3.6,2.6,3.9,1.9,3.3,2.4,4.8],
[1165,2.6,4,3,3.6,2.2,3.3,2.4,4.3],[1175,3.9,2.9,2.3,3.6,4.1,2.6,3.3,4.9,5.5],[1185,3.3,4,2.8,4.5,3.1,4.2,2.55,3.7],
[1195,3.8,2.9,4.4,3.4,4.7,2.7,4.1,3.2,5.8],[1205,3.3,5,3.8,4.5,2.8,4.1,3.1,5.3],[1215,4.8,3.6,2.9,4.5,5.1,3.3,4.1,6,6.2],
[1225,4.1,4.9,3.5,5.5,3.8,5.1,3.2,4.5],[1235,4.5,3.4,5.2,4,5.6,3.2,4.9,3.8,6.5],[1245,3.4,5.1,3.9,4.6,2.9,4.2,3.2,5.4],
[1255,5,3.8,3.1,4.7,5.3,3.5,4.3,6.2],[1265,4.7,5.5,4.1,6.1,4.4,5.7,3.8,5.1,7],[1275,5.2,4.1,5.9,4.7,6.3,3.9,5.6,4.5],
[1285,4.7,6.4,5.2,5.9,4.2,5.5,4.5,6.7],[1295,6.2,5,4.3,5.9,6.5,4.7,5.5,7.4],[1305,5.4,6.5,4.7,7.2,5.1,6.7,4.3,6],
[1315,6.1,4.7,6.9,5.4,7.4,4.4,6.5,5.1],[1325,5.2,7.4,5.8,6.8,4.6,6.3,5,7.8,8],[1335,7.1,5.6,4.7,6.7,7.4,5.2,6.2,8],
[1345,6.1,7.2,5.4,7.9,5.8,7.4,5,6.7],[1355,6.8,5.4,7.6,6.1,8.1,5.1,7.2,5.8],[1365,6,8.2,6.6,7.6,5.4,7.1,5.8,8.6,8.8],
[1375,7.9,6.4,5.5,7.5,8.2,6,7,8.8],[1385,6.9,8,6.2,8.7,6.6,8.2,5.8,7.5],[1395,7.5,6.1,8.3,6.8,8.8,5.8,7.9,6.5],
[1405,6.7,8.9,7.3,8.3,6.1,7.8,6.5,9.3],[1415,8.6,7.1,6.2,8.2,8.9,6.7,7.7,9.5],[1425,7.6,8.7,6.9,9.4,7.3,8.9,6.5,8.2],
[1435,8.3,6.9,9.1,7.6,9.6,6.6,8.7,7.3],[1445,7.5,9.7,8.1,9.1,6.9,8.6,7.3,10.1],[1455,9.4,7.9,7,9,9.7,7.5,8.5,10.3],
[1465,8.3,9.4,7.6,10.1,8,9.6,7.2,8.9],[1475,9,7.6,9.8,8.3,10.3,7.3,9.4,8],[1485,8.1,10.3,8.7,9.7,7.5,9.2,7.9,10.7],
[1495,9.9,8.4,7.5,9.5,10.2,8,9,10.8],[1505,8.8,9.9,8.1,10.6,8.5,10.1,7.7,9.4,5.5],[1515,9.4,8,10.2,8.7,10.7,7.7,9.8,8.4],
[1525,8.4,10.6,9,10,7.8,9.5,8.2,11,6],[1535,10.1,8.6,7.7,9.7,10.4,8.2,9.2,11],[1545,8.7,9.8,8,10.5,8.4,10,7.6,9.3,5],
[1555,9,7.6,9.8,8.3,10.3,7.3,9.4,8],[1565,7.6,9.8,8.2,9.2,7,8.7,7.4,10.2,6.5],[1575,8.4,6.9,6,8,8.7,6.5,7.5,9.3],
[1585,6.7,7.8,6,8.5,6.4,8,5.6,7.3],[1595,7.8,6.4,8.6,7.1,9.1,6.1,8.2,6.8,5.5],[1605,7.6,9.8,8.2,9.2,7,8.7,7.4,10.2],
[1615,9.7,8.2,7.3,9.3,10,7.8,8.8,10.6,5.8],[1625,8.7,9.8,8,10.5,8.4,10,7.6,9.3],[1635,9.3,7.9,10.1,8.6,10.6,7.6,9.7,8.3],
[1645,8.3,10.5,8.9,9.9,7.7,9.4,8.1,10.9,6],[1655,9.9,8.4,7.5,9.5,10.2,8,9,10.8],[1665,8.7,9.8,8,10.5,8.4,10,7.6,9.3],
[1675,9.2,7.8,10,8.5,10.5,7.5,9.6,8.2,5.2],[1685,8.1,10.3,8.7,9.7,7.5,9.2,7.9,10.7],[1695,9.8,8.3,7.4,9.4,10.1,7.9,8.9,10.7],
[1705,8.5,9.6,7.8,10.3,8.2,9.8,7.4,9.1],[1715,8.9,7.5,9.7,8.2,10.2,7.2,9.3,7.9],[1725,7.8,10,8.4,9.4,7.2,8.9,7.6,10.4,6],
[1735,9.4,7.9,7,9,9.7,7.5,8.5,10.3],[1745,8.1,9.2,7.4,9.9,7.8,9.4,7,8.7],[1755,8.5,7.1,9.3,7.8,9.8,6.8,8.9,7.5],
[1765,7.4,9.6,8,9,6.8,8.5,7.2,10],[1775,8.9,7.4,6.5,8.5,9.2,7,8,9.8],[1785,7.6,8.7,6.9,9.4,7.3,8.9,6.5,8.2],
[1795,8,6.6,8.8,7.3,9.3,6.3,8.4,7],[1805,6.8,9,7.4,8.4,6.2,7.9,6.6,9.4],[1815,8.4,6.9,6,8,8.7,6.5,7.5,9.3],
[1825,7,8.1,6.3,8.8,6.7,8.3,5.9,7.6],[1835,7.3,5.9,8.1,6.6,8.6,5.6,7.7,6.3],[1845,6.2,8.4,6.8,7.8,5.6,7.3,6,8.8],
[1855,7.7,6.2,5.3,7.3,8,5.8,6.8,8.6],[1865,6.3,7.4,5.6,8.1,6,7.6,5.2,6.9],[1875,6.6,5.2,7.4,5.9,7.9,4.9,7,5.6],
[1885,5.5,7.7,6.1,7.1,4.9,6.6,5.3,8.1],[1895,7,5.5,4.6,6.6,7.3,5.1,6.1,7.9],[1905,5.6,6.7,4.9,7.4,5.3,6.9,4.5,6.2],
[1915,5.9,4.5,6.7,5.2,7.2,4.2,6.3,4.9],[1925,4.7,6.9,5.3,6.3,4.1,5.8,4.5,7.3],[1935,6.2,4.7,3.8,5.8,6.5,4.3,5.3,7.1],
[1945,4.9,6,4.2,6.7,4.6,6.2,3.8,5.5],[1955,5.2,3.8,6,4.5,6.5,3.5,5.6,4.2],[1965,4,6.2,4.6,5.6,3.4,5.1,3.8,6.6],
[1975,5.5,4,3.1,5.1,5.8,3.6,4.6,6.4],[1985,4.1,5.2,3.4,5.9,3.8,5.4,3,4.7],[1995,4.4,3,5.2,3.7,5.7,2.7,4.8,3.4],
[2005,3.2,5.4,3.8,4.8,2.6,4.3,3,5.8],[2015,4.5,3.3,2.6,4.2,4.8,3,3.8,5.7],[2025,3.4,4.2,2.8,4.8,3.1,4.4,2.5,3.8],
[2035,3.5,2.4,4.2,3,4.6,2.2,3.9,2.8],[2045,2.6,4.3,3.1,3.8,2.1,3.4,2.4,4.6],[2055,3.7,2.5,1.8,3.4,4,2.2,3,4.9],
[2065,2.6,3.4,2,4,2.3,3.6,1.7,3],[2075,2.8,1.7,3.5,2.3,3.9,1.5,3.2,2.1,5.5],[2085,1.9,3.6,2.4,3.1,1.4,2.7,1.7,3.9],
[2095,2.9,1.7,1,2.6,3.2,1.4,2.2,4.1],[2105,1.8,2.15,1.55,2.4,1.7,2.25,1.45,2],[2115,1.6,1.2,1.95,1.45,2.1,1.1,1.8,1.35],
[2125,1.05,1.75,1.25,1.55,0.85,1.4,0.95,1.9],[2135,1.4,0.9,0.6,1.25,1.5,0.75,1.1,1.9],[2145,0.9,1.25,0.65,1.5,0.8,1.35,0.55,1.1],
[2155,1,0.6,1.35,0.85,1.5,0.5,1.2,0.75],[2165,0.85,1.55,1.05,1.35,0.65,1.2,0.75,1.7],[2175,1.6,1.1,0.8,1.45,1.7,0.95,1.3,2.1],
[2185,1.5,1.85,1.25,2.1,1.4,1.95,1.15,1.7],[2195,2,1.6,2.35,1.85,2.5,1.5,2.2,1.75],[2205,2.15,3.1,2.45,2.85,1.9,2.65,2,3.35],
[2215,3.4,2.7,2.3,3.2,3.55,2.5,3,4.1],[2225,3.35,3.85,3,4.2,3.2,4,2.85,3.65],[2235,4,3.35,4.4,3.7,4.6,3.2,4.2,3.55],
[2245,3.85,4.8,4.15,4.55,3.6,4.35,3.7,5.05],[2255,4.9,4.2,3.8,4.7,5.05,4,4.5,5.6],[2265,4.65,5.15,4.3,5.5,4.5,5.3,4.15,4.95],
[2275,5,6.5,8,5.5,7,4.5,6,7.5,5.2,6.8,9,4.8],[2285,6,8,10.5,7,12,6.5,9,11,7.5,9.5,5.5,8.5],[2295,7,10,13,8.5,15,11.5,9,12,7.5,14,10.5,8],
[2305,9,12.5,16,11,18.5,14,10,13.5,17,12,15,9.5],[2315,12,15.5,19.5,14,22,17.5,13,16.5,20.5,15,18.5,12.5],
[2325,16,20,24,18,28,22,17,21,25,19,26.5,23],[2335,20,24,28,22,31.5,26,21,25,29,23,30.5,27],
[2345,24,27.5,31,25.5,34.5,29,26,30,33,28,32,24.5],[2355,27,30.5,34,29,37,32,28,31,35,30,36,33],
[2365,29,33,36,31,38.5,34.5,30,32,35,37.5,31.5,34],[2375,27,32,35.5,30,33.5,29,34,31],
[2385,8,5,3.2,2.6,2.3],[2395,2.2,2.1,2,1.9],[2405,1.85,1.8,1.7,1.65],[2415,1.6,1.5,1.45,1.4],[2425,1.35,1.3,1.2,1.15],
[2435,1.1,1.05,1,0.95],[2445,0.9,0.85,0.8,0.75],[2455,0.7,0.65,0.6,0.55],[2465,0.5,0.47,0.44,0.4],[2475,0.38,0.35,0.32,0.3],
[2485,0.28,0.25,0.23,0.2],[2495,0.2,0.18,0.16,0.15],
[2505,0.15,0.2,0.05,0.3,0.1,0.25],[2515,0.2,0.35,0.05,0.5,0.1,0.3],[2525,0.2,0.5,0.05,0.7,0.35,0.1],[2535,0.3,0.6,0.05,0.9,0.45,0.15],
[2545,0.2,0.7,0.05,1,0.45,0.3],[2555,0.4,0.8,0.05,1.2,0.6,0.2],[2565,0.3,0.9,0.05,1.4,0.6,0.15],[2575,0.4,1.1,0.05,1.6,0.8,0.2],
[2585,0.3,1.2,0.05,1.8,0.7,0.15],[2595,0.5,1.3,0.05,1.9,0.9,0.25],[2605,0.4,1.2,0.05,2.1,0.8,1.6],[2615,0.6,1.4,0.05,2,1,0.3],
[2625,0.4,1.3,0.05,2.2,0.9,1.7],[2635,0.5,1.5,0.05,2,1.1,0.25],[2645,0.4,1.4,0.05,2.3,1,1.8],[2655,0.6,1.5,0.05,2.1,0.9,0.3],
[2665,0.5,1.3,0.05,2,0.8,1.6],[2675,0.4,1.4,0.05,1.9,1,0.25],[2685,0.5,1.2,0.05,1.8,0.7,1.5],[2695,0.4,1.3,0.05,2,0.9,0.2],
[2705,0.3,1.1,0.05,1.7,0.6,1.4],[2715,0.5,1.7,2.6,3.4,1.1,0.05],[2725,0.3,1,0.05,1.5,0.6,0.2],[2735,0.2,0.9,0.05,1.4,0.5,0.15],
[2745,0.3,0.8,0.05,1.2,0.4,0.1],[2755,0.2,0.6,0.05,1,0.3,0.1]
];
// Extra rms channels in the two strongly absorbing bands, binned half a bin later
const rmsBandRows = [
[650,31,20,26,14,29,8],[660,28,15,32,21,24,11],[670,27,13,31,19,24,16],[680,22,10,26,15,19,7],[690,11,6,14,8,5,9],
[2280,5.5,7.5,9.5,6,11,8.5],[2290,6.5,9,12,8,14,10],[2300,8,11,14.5,10,17,12.5],[2310,10.5,14,17.5,12.5,20.5,15.5],
[2320,14,18,22,16,25,20],[2330,18,22,26,20,30,24],[2340,22,26,30,24,33,28],[2350,25.5,29,32.5,27,36,31],
[2360,28,32,35,30,38,33.5],[2370,29,33,36.5,31,34.5,38]
];

// Isolated channels standing apart from their neighbours: [wavenumber, value in mK]
const biasIsolated = [[718,20.7],[718,17.3],[718,13.7],[1045,-0.6],[1045,1.5],[1297,-0.8],[1297,-1.6],[1297,-2.4],
  [2270,9],[2270,13],[2270,17],[2270,21],[2383,27],[2383,20.9],[2383,16.3],[2383,11.3],[2383,5.8]];
const stdIsolated = [[718,10.6],[718,9.4],[718,8.2],[718,7],[2075,5.4],[2075,6.6],[2075,7.9],[2383,9],[2383,7.5]];
const rmsIsolated = [[718,23.2],[718,18.5],[718,15.1],[1045,11.5],[1045,10],[1297,10.4],[1297,9.2],[1297,8.2],[1297,7.2],
  [2270,25.7],[2270,20],[2270,15.5],[2383,36],[2383,30],[2383,23.8],[2383,18.3],[2383,13],[2383,8]];

const seriesNames = ["Bias", "Standard deviation", "rms"];
const xTickValues = [600, 800, 1000, 1200, 1400, 1600, 1800, 2000, 2200, 2400, 2600, 2800];
const xTickLabels = ["600", "800", "1000", "1200", "1400", "1600", "1800", "2000", "2200", "2400", "2600", "2800"];
const xMinorValues = [700, 900, 1100, 1300, 1500, 1700, 1900, 2100, 2300, 2500, 2700];
const yTickValues = [-10, 0, 10, 20, 30, 40, 50];           // mK
const yTickLabels = ["-0.01", "0", "0.01", "0.02", "0.03", "0.04", "0.05"]; // K
const yMinorValues = [-5, 5, 15, 25, 35, 45];

const colors = ["#1c1c8c", "#f01c1c", "#2a963a"];

const svg = d3.select("#chart");
const plot = { left: 87.3, right: 825, top: 14.7, bottom: 532 };

const x = d3.scaleLinear().domain([600, 2800]).range([plot.left, plot.right]);
const y = d3.scaleLinear().domain([-15, 50]).range([plot.bottom, plot.top]);

function channels(rowSets, isolated) {
  const pts = [];
  rowSets.forEach(rows => rows.forEach(r => {
    const k = r.length - 1;
    for (let j = 1; j <= k; j++) pts.push([r[0] + (j - 1) * binWidth / k, r[j]]);
  }));
  isolated.forEach(p => pts.push(p));
  return pts;
}

const series = [
  channels([biasRows, biasBandRows], biasIsolated),
  channels([stdRows, stdBandRows], stdIsolated),
  channels([rmsRows, rmsBandRows], rmsIsolated)
];

svg.append("defs").append("clipPath").attr("id", "plotClip")
  .append("rect").attr("x", plot.left).attr("y", plot.top)
  .attr("width", plot.right - plot.left).attr("height", plot.bottom - plot.top);

const dots = svg.append("g").attr("clip-path", "url(#plotClip)");
series.forEach((pts, i) => {
  dots.append("g").attr("fill", colors[i])
    .selectAll("circle").data(pts).join("circle")
    .attr("cx", d => x(d[0])).attr("cy", d => y(d[1])).attr("r", 1.25);
});

// Axes with inward ticks on all four sides
const tickColor = "#2a2a2a";
function styleAxis(g) {
  g.select(".domain").remove();
  g.selectAll(".tick line").attr("stroke", tickColor).attr("stroke-width", 1.8);
  g.selectAll(".tick text").attr("font-size", 19).attr("letter-spacing", "0.6px")
    .attr("fill", "#1e1e1e").attr("font-family", "'Liberation Sans', Arial, sans-serif");
}

svg.append("g").attr("transform", `translate(0,${plot.bottom})`)
  .call(d3.axisBottom(x).tickValues(xTickValues).tickFormat((d, i) => xTickLabels[i]).tickSize(-14).tickPadding(10))
  .call(styleAxis);
svg.append("g").attr("transform", `translate(0,${plot.bottom})`)
  .call(d3.axisBottom(x).tickValues(xMinorValues).tickFormat("").tickSize(-7)).call(styleAxis);
svg.append("g").attr("transform", `translate(0,${plot.top})`)
  .call(d3.axisTop(x).tickValues(xTickValues).tickFormat("").tickSize(-14)).call(styleAxis);
svg.append("g").attr("transform", `translate(0,${plot.top})`)
  .call(d3.axisTop(x).tickValues(xMinorValues).tickFormat("").tickSize(-7)).call(styleAxis);

svg.append("g").attr("transform", `translate(${plot.left},0)`)
  .call(d3.axisLeft(y).tickValues(yTickValues).tickFormat((d, i) => yTickLabels[i]).tickSize(-14).tickPadding(7))
  .call(styleAxis);
svg.append("g").attr("transform", `translate(${plot.left},0)`)
  .call(d3.axisLeft(y).tickValues(yMinorValues).tickFormat("").tickSize(-7)).call(styleAxis);
svg.append("g").attr("transform", `translate(${plot.right},0)`)
  .call(d3.axisRight(y).tickValues(yTickValues).tickFormat("").tickSize(-14)).call(styleAxis);
svg.append("g").attr("transform", `translate(${plot.right},0)`)
  .call(d3.axisRight(y).tickValues(yMinorValues).tickFormat("").tickSize(-7)).call(styleAxis);

svg.append("rect")
  .attr("x", plot.left).attr("y", plot.top)
  .attr("width", plot.right - plot.left).attr("height", plot.bottom - plot.top)
  .attr("fill", "none").attr("stroke", tickColor).attr("stroke-width", 1.8);

// Legend
const legend = svg.append("g");
legend.append("rect").attr("x", 132).attr("y", 52).attr("width", 207).attr("height", 97)
  .attr("fill", "#fff").attr("stroke", tickColor).attr("stroke-width", 1.8);
const legendRows = [81.5, 110, 132];
seriesNames.forEach((name, i) => {
  legend.append("circle").attr("cx", 146).attr("cy", legendRows[i] - 7.5).attr("r", 1.3).attr("fill", colors[i]);
  legend.append("text").attr("x", 159).attr("y", legendRows[i])
    .attr("font-size", 19).attr("letter-spacing", "0.6px").text(name);
});

// Axis titles
svg.append("text")
  .attr("transform", "translate(27,264) rotate(-90)")
  .attr("text-anchor", "middle").attr("font-size", 19).attr("letter-spacing", "0.6px")
  .text("Brightness temperature (K)");

const xTitle = svg.append("text")
  .attr("x", 475).attr("y", 593).attr("text-anchor", "middle")
  .attr("font-size", 20).attr("letter-spacing", "0.6px");
xTitle.append("tspan").text("Wave-number (cm");
xTitle.append("tspan").attr("font-size", 13).attr("dy", -8).text("\u22121");
xTitle.append("tspan").attr("dy", 8).text(")");
</script>
</body>
</html>
